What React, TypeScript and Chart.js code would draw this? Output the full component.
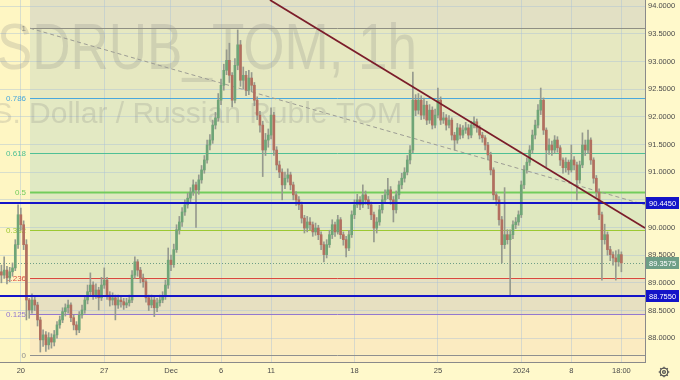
import { useEffect, useRef } from 'react';
import { Chart, registerables } from 'chart.js';

Chart.register(...registerables);

// ---- data ----
const SLOT_COUNT = 232;
const FIRST_OPEN = 89.2;
const CLOSE = [
  89.14, 89.23, 89.09, 89.2, 89.27, 89.69, 90.23, 90.05, 89.69, 88.69,
  88.51, 88.69, 88.6, 88.33, 87.97, 88.06, 87.88, 88.01, 87.93, 88.06,
  88.24, 88.33, 88.48, 88.55, 88.6, 88.37, 88.24, 88.15, 88.42, 88.51,
  88.69, 88.84, 88.96, 88.78, 88.87, 88.73, 88.96, 89.05, 88.78, 88.69,
  88.73, 88.6, 88.69, 88.66, 88.6, 88.64, 88.69, 89.14, 89.38, 89.23,
  89.09, 89.02, 88.73, 88.6, 88.69, 88.55, 88.64, 88.69, 88.75, 88.96,
  89.41, 89.33, 89.6, 89.96, 90.1, 90.28, 90.41, 90.53, 90.64, 90.77,
  90.68, 90.86, 91.04, 91.22, 91.49, 91.58, 91.85, 91.98, 92.3, 92.57,
  92.84, 93.02, 92.75, 92.3, 92.93, 93.3, 92.66, 92.75, 92.48, 92.7,
  92.57, 92.3, 92.03, 91.85, 91.4, 91.58, 91.67, 92.03, 91.4, 91.13,
  91.0, 90.77, 90.89, 90.95, 90.77, 90.59, 90.5, 90.41, 90.17, 89.99,
  90.1, 90.05, 89.92, 89.99, 89.87, 89.69, 89.51, 89.69, 89.87, 90.05,
  89.92, 90.14, 89.87, 89.78, 89.63, 89.87, 90.23, 90.41, 90.5, 90.41,
  90.59, 90.5, 90.41, 90.23, 89.99, 90.1, 90.32, 90.5, 90.59, 90.68,
  90.5, 90.32, 90.59, 90.77, 90.89, 91.0, 91.22, 91.4, 92.3, 92.12,
  92.3, 92.03, 92.21, 91.94, 92.12, 91.85, 92.03, 92.3, 91.94, 91.98,
  91.85, 91.94, 91.67, 91.58, 91.8, 91.67, 91.76, 91.8, 91.67, 91.85,
  91.91, 91.8, 91.67, 91.62, 91.49, 91.31, 91.04, 90.59, 90.5, 90.14,
  89.69, 89.87, 89.78, 89.87, 90.05, 90.1, 90.23, 90.77, 91.04, 91.18,
  91.4, 91.67, 91.85, 92.12, 92.3, 91.76, 91.4, 91.49, 91.4, 91.58,
  91.44, 91.22, 91.08, 91.18, 91.04, 91.22, 91.13, 90.86, 91.13, 91.49,
  91.4, 91.58, 91.22, 90.89, 90.64, 90.23, 89.78, 89.87, 89.6, 89.51,
  89.45, 89.38, 89.51, 89.36,
];
const HIGH = [
  89.32, 89.47, 89.3, 89.28, 89.36, 89.78, 90.41, 90.35, 90.12, 89.78,
  88.72, 88.8, 88.76, 88.65, 88.38, 88.15, 88.12, 88.1, 88.08, 88.14,
  88.3, 88.4, 88.55, 88.62, 88.69, 88.64, 88.42, 88.3, 88.48, 88.6,
  88.76, 88.96, 89.18, 89.02, 88.98, 88.92, 89.1, 89.27, 89.1, 88.84,
  88.82, 88.78, 88.78, 88.76, 88.72, 88.72, 88.78, 89.22, 89.47, 89.42,
  89.28, 89.16, 89.06, 88.78, 88.78, 88.74, 88.72, 88.78, 88.84, 89.05,
  89.63, 89.5, 89.7, 90.05, 90.2, 90.36, 90.5, 90.62, 90.72, 90.86,
  90.82, 90.95, 91.12, 91.3, 91.58, 91.68, 91.94, 92.08, 92.42, 92.68,
  92.95, 93.21, 93.33, 92.8, 93.05, 93.57, 93.38, 92.9, 92.82, 92.84,
  92.8, 92.62, 92.36, 92.1, 91.92, 91.7, 91.78, 92.16, 92.08, 91.46,
  91.2, 91.06, 91.0, 91.06, 91.0, 90.82, 90.65, 90.56, 90.46, 90.22,
  90.2, 90.18, 90.1, 90.08, 90.04, 89.92, 89.74, 89.78, 89.95, 90.14,
  90.1, 90.22, 90.18, 89.92, 89.84, 89.95, 90.3, 90.5, 90.6, 90.56,
  90.77, 90.66, 90.56, 90.46, 90.28, 90.18, 90.4, 90.58, 90.68, 90.89,
  90.74, 90.56, 90.66, 90.84, 90.98, 91.08, 91.3, 91.48, 92.81, 92.4,
  92.42, 92.38, 92.34, 92.28, 92.22, 92.18, 92.14, 92.52, 92.36, 92.08,
  92.04, 92.02, 91.98, 91.72, 91.88, 91.86, 91.84, 91.9, 91.86, 91.92,
  92.0, 91.96, 91.84, 91.72, 91.66, 91.54, 91.36, 91.08, 90.64, 90.56,
  90.2, 90.72, 89.96, 89.96, 90.12, 90.18, 90.3, 90.84, 91.12, 91.26,
  91.48, 91.76, 91.94, 92.22, 92.52, 92.34, 91.8, 91.6, 91.56, 91.66,
  91.64, 91.48, 91.26, 91.26, 91.22, 91.49, 91.28, 91.18, 91.2, 91.71,
  91.58, 91.76, 91.62, 91.26, 90.94, 90.7, 90.28, 90.06, 89.92, 89.66,
  89.56, 89.58, 89.6, 89.56,
];
const LOW = [
  89.0, 89.08, 88.98, 89.02, 89.12, 89.22, 89.62, 89.95, 89.6, 88.33,
  88.36, 88.45, 88.5, 88.22, 87.75, 87.85, 87.76, 87.8, 87.82, 87.86,
  88.0, 88.18, 88.28, 88.4, 88.45, 88.3, 88.15, 88.06, 88.1, 88.36,
  88.45, 88.62, 88.78, 88.7, 88.72, 88.51, 88.68, 88.9, 88.7, 88.58,
  88.6, 88.33, 88.54, 88.56, 88.52, 88.55, 88.58, 88.64, 89.08, 89.12,
  89.0, 88.92, 88.65, 88.5, 88.55, 88.39, 88.48, 88.58, 88.64, 88.7,
  88.9, 89.22, 89.28, 89.55, 89.88, 90.02, 90.22, 90.35, 90.46, 90.58,
  90.0, 90.6, 90.8, 90.98, 91.16, 91.4, 91.52, 91.78, 91.92, 92.22,
  92.48, 92.76, 92.62, 92.18, 92.25, 92.85, 92.55, 92.5, 92.38, 92.4,
  92.45, 92.2, 91.95, 91.72, 90.92, 91.3, 91.45, 91.6, 91.3, 91.04,
  90.9, 90.5, 90.7, 90.82, 90.68, 90.5, 90.4, 90.32, 90.08, 89.9,
  89.92, 89.96, 89.84, 89.86, 89.78, 89.6, 89.38, 89.45, 89.64, 89.8,
  89.84, 89.88, 89.8, 89.68, 89.47, 89.58, 89.82, 90.16, 90.36, 90.32,
  90.36, 90.42, 90.34, 90.14, 89.74, 89.9, 90.04, 90.26, 90.44, 90.52,
  90.42, 90.1, 90.26, 90.52, 90.7, 90.82, 90.95, 91.15, 91.35, 92.02,
  92.05, 91.95, 91.96, 91.86, 91.88, 91.78, 91.8, 91.98, 91.86, 91.88,
  91.76, 91.8, 91.58, 91.4, 91.52, 91.6, 91.62, 91.7, 91.6, 91.62,
  91.8, 91.72, 91.6, 91.54, 91.4, 91.22, 90.95, 90.5, 90.4, 90.04,
  89.36, 89.62, 89.7, 88.76, 89.8, 89.98, 90.04, 90.18, 90.7, 90.98,
  91.12, 91.34, 91.6, 91.8, 92.04, 91.68, 91.1, 91.32, 91.3, 91.34,
  91.36, 91.12, 90.98, 91.0, 90.96, 91.0, 91.04, 90.5, 90.8, 91.08,
  91.3, 91.34, 91.14, 90.8, 90.55, 90.14, 89.05, 89.7, 89.5, 89.4,
  89.32, 89.05, 89.3, 89.2,
];
const TICK_INDEX = [7, 37, 61, 79, 97, 127, 157, 187, 205, 223];
const TICK_TEXT = ['20', '27', 'Dec', '6', '11', '18', '25', '2024', '8', '18:00'];
const Y_TICKS = [88, 88.5, 89, 89.5, 90, 90.5, 91, 91.5, 92, 92.5, 93, 93.5, 94];
const Y_MIN = 87.57;
const Y_MAX = 94.11;
const FIB_LOW = 87.7;
const FIB_HIGH = 93.6;
const FIB_RATIOS = [1, 0.786, 0.618, 0.5, 0.382, 0.236, 0.125, 0];
const FIB_LABELS = ['1', '0.786', '0.618', '0.5', '0.382', '0.236', '0.125', '0'];
const FIB_START_INDEX = 10.3;
const LEVEL_LINES = [90.445, 88.755];
const LEVEL_TEXT = ['90.4450', '88.7550'];
const LAST_PRICE = 89.3575;
const LAST_TEXT = '89.3575';
const TREND_INDEX = [96.6, 231.5];
const TREND_PRICE = [94.11, 89.99];
const DIAG_INDEX = [10.3, 231.5];
const DIAG_PRICE = [93.6, 90.41];
const WATERMARK_1 = 'USDRUB_TOM, 1h';
const WATERMARK_2 = 'U.S. Dollar / Russian Ruble TOM';

// ---- styles ----
const FONT = '"Liberation Sans", Arial, sans-serif';
const UP = '#6fa577';
const DOWN = '#b26f5f';
const WICK = '#969a8e';
const GRID = 'rgba(170,192,214,0.45)';
const AXIS_BG = '#fff9cb';
const LEFT_BG = '#fef6c3';
const ZONE_COLORS = [
  '#e2e0c4', '#e6e8c1', '#e3e9c3', '#e0e9c3', '#dfe8c0', '#e3e8c0', '#e7e0c1', '#fbebc1', '#fdefc6',
];
const FIB_COLORS = ['#8f8f84', '#4aa8dc', '#4fc096', '#72cc5c', '#9cc832', '#d9483e', '#9378d0', '#8f8f8f'];

const OPEN = CLOSE.map((c, i) => (i === 0 ? FIRST_OPEN : CLOSE[i - 1]));

const overlay = {
  id: 'overlay',
  beforeDraw(chart: any) {
    const { ctx, chartArea: a, scales } = chart;
    const x = scales.x, y = scales.y;
    ctx.save();
    ctx.fillStyle = AXIS_BG;
    ctx.fillRect(0, 0, chart.width, chart.height);
    const fx = x.getPixelForValue(FIB_START_INDEX);
    ctx.fillStyle = LEFT_BG;
    ctx.fillRect(a.left, a.top, fx - a.left, a.bottom - a.top);
    const levels = FIB_RATIOS.map((r) => y.getPixelForValue(FIB_LOW + r * (FIB_HIGH - FIB_LOW)));
    const ys = [a.top, ...levels, a.bottom];
    for (let k = 0; k < ys.length - 1; k++) {
      ctx.fillStyle = ZONE_COLORS[k];
      ctx.fillRect(fx, ys[k], a.right - fx, ys[k + 1] - ys[k]);
    }
    ctx.restore();
  },
  beforeDatasetsDraw(chart: any) {
    const { ctx, chartArea: a, scales } = chart;
    const x = scales.x, y = scales.y;
    ctx.save();
    ctx.beginPath();
    ctx.rect(a.left, a.top, a.right - a.left, a.bottom - a.top);
    ctx.clip();
    // watermark
    ctx.fillStyle = 'rgba(128,128,128,0.22)';
    ctx.textBaseline = 'alphabetic';
    ctx.textAlign = 'left';
    ctx.font = `64px ${FONT}`;
    const wU = ctx.measureText('U').width;
    const wFull = ctx.measureText(WATERMARK_1).width;
    const sx = 420 / (wFull - wU);
    ctx.save();
    ctx.translate(-3 - wU * sx, 69);
    ctx.scale(sx, 1);
    ctx.fillText(WATERMARK_1, 0, 0);
    ctx.restore();
    ctx.font = `30px ${FONT}`;
    ctx.textAlign = 'right';
    ctx.fillText(WATERMARK_2, 402, 123);
    // fib lines
    const fx = x.getPixelForValue(FIB_START_INDEX);
    FIB_RATIOS.forEach((r, k) => {
      const py = Math.round(y.getPixelForValue(FIB_LOW + r * (FIB_HIGH - FIB_LOW))) + 0.5;
      ctx.strokeStyle = FIB_COLORS[k];
      ctx.lineWidth = r === 0.5 ? 2 : 1;
      ctx.beginPath();
      ctx.moveTo(fx, py);
      ctx.lineTo(a.right, py);
      ctx.stroke();
      ctx.fillStyle = FIB_COLORS[k];
      ctx.font = `8px ${FONT}`;
      ctx.textAlign = 'right';
      ctx.textBaseline = 'middle';
      ctx.fillText(FIB_LABELS[k], fx - 4, py);
    });
    // diagonal dashed fib trend
    ctx.strokeStyle = '#9c9c94';
    ctx.lineWidth = 1;
    ctx.setLineDash([4, 3]);
    ctx.beginPath();
    ctx.moveTo(x.getPixelForValue(DIAG_INDEX[0]), y.getPixelForValue(DIAG_PRICE[0]));
    ctx.lineTo(x.getPixelForValue(DIAG_INDEX[1]), y.getPixelForValue(DIAG_PRICE[1]));
    ctx.stroke();
    // last price dotted line
    const lp = Math.round(y.getPixelForValue(LAST_PRICE)) + 0.5;
    ctx.strokeStyle = '#6e9e86';
    ctx.setLineDash([1, 2]);
    ctx.beginPath();
    ctx.moveTo(a.left, lp);
    ctx.lineTo(a.right, lp);
    ctx.stroke();
    ctx.setLineDash([]);
    ctx.restore();
  },
  afterDatasetsDraw(chart: any) {
    const { ctx, chartArea: a, scales } = chart;
    const x = scales.x, y = scales.y;
    ctx.save();
    ctx.beginPath();
    ctx.rect(a.left, a.top, a.right - a.left, a.bottom - a.top);
    ctx.clip();
    ctx.strokeStyle = '#1414c8';
    ctx.lineWidth = 2;
    LEVEL_LINES.forEach((v) => {
      const py = Math.round(y.getPixelForValue(v));
      ctx.beginPath();
      ctx.moveTo(a.left, py);
      ctx.lineTo(a.right, py);
      ctx.stroke();
    });
    ctx.strokeStyle = '#7b1d2a';
    ctx.lineWidth = 1.8;
    ctx.beginPath();
    ctx.moveTo(x.getPixelForValue(TREND_INDEX[0]), y.getPixelForValue(TREND_PRICE[0]));
    ctx.lineTo(x.getPixelForValue(TREND_INDEX[1]), y.getPixelForValue(TREND_PRICE[1]));
    ctx.stroke();
    ctx.restore();
  },
  afterDraw(chart: any) {
    const { ctx, chartArea: a, scales } = chart;
    const y = scales.y;
    ctx.save();
    const tag = (v: number, text: string, bg: string) => {
      const py = y.getPixelForValue(v);
      ctx.fillStyle = bg;
      ctx.fillRect(a.right + 1, Math.round(py) - 6, 33, 12);
      ctx.fillStyle = '#ffffff';
      ctx.font = `7.5px ${FONT}`;
      ctx.textAlign = 'left';
      ctx.textBaseline = 'middle';
      ctx.fillText(text, a.right + 4, Math.round(py) + 0.5);
    };
    LEVEL_LINES.forEach((v, k) => tag(v, LEVEL_TEXT[k], '#1414c8'));
    tag(LAST_PRICE, LAST_TEXT, '#6e9e86');
    // settings gear
    ctx.strokeStyle = '#555555';
    ctx.lineWidth = 1.3;
    ctx.beginPath();
    ctx.arc(664, 372, 3.8, 0, Math.PI * 2);
    ctx.stroke();
    ctx.beginPath();
    ctx.arc(664, 372, 1.4, 0, Math.PI * 2);
    ctx.stroke();
    for (let k = 0; k < 8; k++) {
      const ang = (k * Math.PI) / 4;
      ctx.beginPath();
      ctx.moveTo(664 + Math.cos(ang) * 3.8, 372 + Math.sin(ang) * 3.8);
      ctx.lineTo(664 + Math.cos(ang) * 5.3, 372 + Math.sin(ang) * 5.3);
      ctx.stroke();
    }
    ctx.restore();
  },
};

export default function App() {
  const ref = useRef<HTMLCanvasElement>(null);
  useEffect(() => {
    document.body.style.margin = '0';
    const canvas = ref.current;
    if (!canvas) return;
    const labels = Array.from({ length: SLOT_COUNT }, (_, i) => String(i));
    const bodies = labels.map((_, i) => (i < CLOSE.length ? [OPEN[i], CLOSE[i]] : null));
    const wicks = labels.map((_, i) => (i < CLOSE.length ? [LOW[i], HIGH[i]] : null));
    const bodyColors = labels.map((_, i) => (i < CLOSE.length && CLOSE[i] >= OPEN[i] ? UP : DOWN));
    const chart = new Chart(canvas, {
      type: 'bar',
      data: {
        labels,
        datasets: [
          {
            data: bodies as any,
            backgroundColor: bodyColors,
            barThickness: 2,
            minBarLength: 1,
            grouped: false,
            borderWidth: 0,
          } as any,
          {
            data: wicks as any,
            backgroundColor: WICK,
            barThickness: 1,
            grouped: false,
            borderWidth: 0,
          } as any,
        ],
      },
      options: {
        responsive: false,
        animation: false,
        devicePixelRatio: 1,
        layout: { padding: 0 },
        plugins: { legend: { display: false }, tooltip: { enabled: false } },
        scales: {
          x: {
            type: 'category',
            offset: true,
            afterFit: (s: any) => {
              s.height = 18;
              s.paddingLeft = 0;
              s.paddingRight = 0;
              s.paddingTop = 0;
              s.paddingBottom = 0;
            },
            grid: {
              offset: false,
              drawTicks: false,
              color: (c: any) => (TICK_INDEX.includes(c.index) ? GRID : 'rgba(0,0,0,0)'),
            },
            border: { color: '#8a8a8a', width: 1 },
            ticks: {
              autoSkip: false,
              maxRotation: 0,
              minRotation: 0,
              padding: 4,
              color: '#4a4a4a',
              font: { size: 7.5, family: FONT },
              callback: (_v: any, i: number) => {
                const k = TICK_INDEX.indexOf(i);
                return k >= 0 ? TICK_TEXT[k] : '';
              },
            },
          },
          y: {
            position: 'right',
            min: Y_MIN,
            max: Y_MAX,
            afterFit: (s: any) => {
              s.width = 35;
              s.paddingLeft = 0;
              s.paddingRight = 0;
              s.paddingTop = 0;
              s.paddingBottom = 0;
            },
            afterBuildTicks: (s: any) => { s.ticks = Y_TICKS.map((v) => ({ value: v })); },
            grid: { color: GRID, drawTicks: false },
            border: { color: '#8a8a8a', width: 1 },
            ticks: {
              padding: 3,
              color: '#4a4a4a',
              font: { size: 7.5, family: FONT },
              callback: (v: any) => Number(v).toFixed(4),
            },
          },
        },
      } as any,
      plugins: [overlay as any],
    });
    return () => chart.destroy();
  }, []);
  return <canvas ref={ref} width={680} height={380} style={{ display: 'block', width: 680, height: 380 }} />;
}
